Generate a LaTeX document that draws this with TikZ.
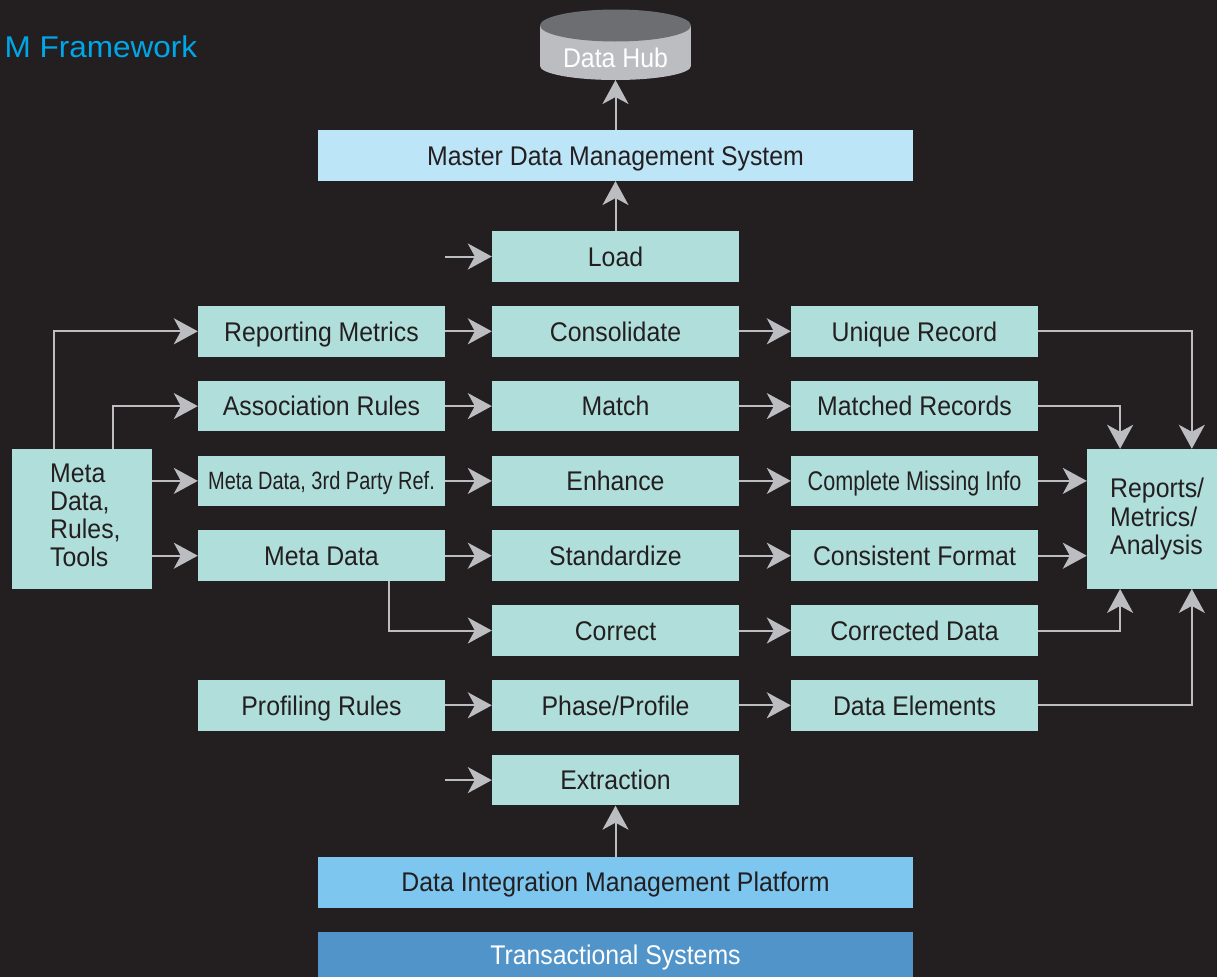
\documentclass[tikz,border=0pt]{standalone}
\usepackage{fontspec}
\setmainfont{Liberation Sans}[FakeStretch=0.92]
\newfontfamily\narrowfam{Liberation Sans}[FakeStretch=0.8]
\newfontfamily\plainfam{Liberation Sans}[FakeStretch=1.05]
\usetikzlibrary{arrows.meta}
\definecolor{bgc}{HTML}{231F20}
\definecolor{tealbox}{HTML}{B0DEDB}
\definecolor{mdmc}{HTML}{BDE5F8}
\definecolor{dimpc}{HTML}{7DC6EF}
\definecolor{transc}{HTML}{5094C9}
\definecolor{lgray}{HTML}{BCBDC0}
\definecolor{hubtop}{HTML}{6D6E71}
\definecolor{titlec}{HTML}{00A7E8}
\definecolor{darktxt}{HTML}{231F20}
\tikzset{
  box/.style={rectangle, fill=tealbox, minimum width=247pt, minimum height=50.7pt,
    inner sep=0pt, text=darktxt, font=\fontsize{27}{28}\selectfont,
    text height=19.4pt, text depth=0pt},
  widebox/.style={box, minimum width=595pt},
  arr/.style={draw=lgray, line width=2pt, -{Stealth[length=24pt,width=26pt,inset=7pt]}},
  multitxt/.style={anchor=west, align=left, inner sep=0pt, text=darktxt}
}
\begin{document}
\begin{tikzpicture}[x=1pt,y=-1pt]
\useasboundingbox (0,0) rectangle (1217,977);
\fill[bgc] (0,0) rectangle (1217,977);

% title
\node[anchor=base west, inner sep=0pt, text=titlec, font=\plainfam\fontsize{30}{36}\selectfont] (title) at (4.5,57) {M Framework};

% data hub cylinder
\fill[lgray] (540,25.5) rectangle (691,66);
\fill[lgray] (615.5,66) ellipse [x radius=75.5pt, y radius=14pt];
\fill[hubtop] (615.5,25.5) ellipse [x radius=75.5pt, y radius=16pt];
\node[inner sep=0pt, text=white, font=\fontsize{27}{28}\selectfont, text height=19.4pt, text depth=0pt] (hubtxt) at (615.5,58) {Data Hub};
\coordinate (hubb) at (615.5,80);

% wide bars
\node[widebox, fill=mdmc] (mdm) at (615.5,155.5) {Master Data Management System};
\node[widebox, fill=dimpc] (dimp) at (615.5,882.2) {Data Integration Management Platform};
\node[widebox, fill=transc, text=white, minimum height=45pt] (trans) at (615.5,954.5) {Transactional Systems};

% middle column
\node[box] (load) at (615.5,256.5) {Load};
\node[box] (cons) at (615.5,331.3) {Consolidate};
\node[box] (match) at (615.5,406.1) {Match};
\node[box] (enh) at (615.5,480.9) {Enhance};
\node[box] (std) at (615.5,555.7) {Standardize};
\node[box] (corr) at (615.5,630.5) {Correct};
\node[box] (phase) at (615.5,705.3) {Phase/Profile};
\node[box] (ext) at (615.5,780.1) {Extraction};

% left column
\node[box] (rm) at (321.5,331.3) {Reporting Metrics};
\node[box] (ar) at (321.5,406.1) {Association Rules};
\node[box, font=\narrowfam\fontsize{25}{28}\selectfont, text height=17.9pt] (mdr) at (321.5,480.9) {Meta Data, 3rd Party Ref.};
\node[box] (md) at (321.5,555.7) {Meta Data};
\node[box] (pr) at (321.5,705.3) {Profiling Rules};

% right column
\node[box] (ur) at (914.5,331.3) {Unique Record};
\node[box] (mr) at (914.5,406.1) {Matched Records};
\node[box, font=\narrowfam\fontsize{27}{28}\selectfont] (cmi) at (914.5,480.9) {Complete Missing Info};
\node[box] (cf) at (914.5,555.7) {Consistent Format};
\node[box] (cd) at (914.5,630.5) {Corrected Data};
\node[box] (de) at (914.5,705.3) {Data Elements};

% side boxes
\node[box, minimum width=140pt, minimum height=139.7pt] (meta) at (82,518.85) {};
\node[multitxt, font=\fontsize{27}{28}\selectfont] (metatxt) at (50,515.3) {Meta\\Data,\\Rules,\\Tools};
\node[box, minimum width=130pt, minimum height=139.7pt] (rep) at (1152,518.85) {};
\node[multitxt, font=\fontsize{27}{28.5}\selectfont] (reptxt) at (1110,519.5) {Reports/\\Metrics/\\Analysis};

% connectors: vertical spine
\draw[arr] (mdm.north) -- (hubb);
\draw[arr] (load.north) -- (mdm.south);
\coordinate (inL) at (445,256.5);
\draw[arr] (inL) -- (load.west);
\coordinate (inE) at (445,780.1);
\draw[arr] (inE) -- (ext.west);
\draw[arr] (dimp.north) -- (ext.south);

% from meta box
\draw[arr] ([xshift=41.7pt]meta.north west) |- (rm.west);
\draw[arr] ([xshift=101.3pt]meta.north west) |- (ar.west);
\draw[arr] (meta.east |- mdr.west) -- (mdr.west);
\draw[arr] (meta.east |- md.west) -- (md.west);

% left to middle
\draw[arr] (rm.east) -- (cons.west);
\draw[arr] (ar.east) -- (match.west);
\draw[arr] (mdr.east) -- (enh.west);
\draw[arr] (md.east) -- (std.west);
\draw[arr] ([xshift=67.2pt]md.south) |- (corr.west);
\draw[arr] (pr.east) -- (phase.west);

% middle to right
\draw[arr] (cons.east) -- (ur.west);
\draw[arr] (match.east) -- (mr.west);
\draw[arr] (enh.east) -- (cmi.west);
\draw[arr] (std.east) -- (cf.west);
\draw[arr] (corr.east) -- (cd.west);
\draw[arr] (phase.east) -- (de.west);

% right to reports
\draw[arr] (ur.east) -| ([xshift=105pt]rep.north west);
\draw[arr] (mr.east) -| ([xshift=33.3pt]rep.north west);
\draw[arr] (cmi.east) -- (rep.west |- cmi.east);
\draw[arr] (cf.east) -- (rep.west |- cf.east);
\draw[arr] (cd.east) -| ([xshift=33.3pt]rep.south west);
\draw[arr] (de.east) -| ([xshift=105pt]rep.south west);
\end{tikzpicture}
\end{document}
